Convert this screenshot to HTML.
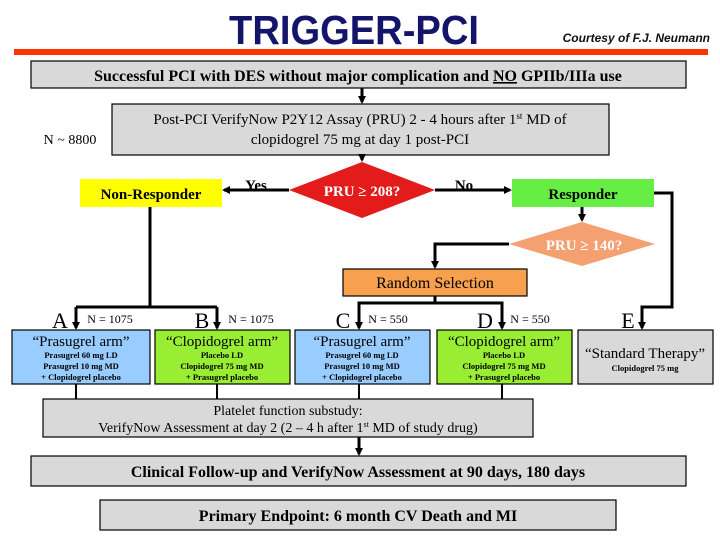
<!DOCTYPE html>
<html><head><meta charset="utf-8"><style>
body{margin:0;background:#fff;width:720px;height:540px;overflow:hidden}
svg{display:block}
.s{font-family:"Liberation Serif",serif}
.b{font-weight:bold}
</style></head><body>
<svg width="720" height="540" viewBox="0 0 720 540" xmlns="http://www.w3.org/2000/svg">
<defs><marker id="a" markerWidth="8" markerHeight="8" refX="6" refY="4" orient="auto" markerUnits="userSpaceOnUse"><path d="M0,0 L8,4 L0,8 Z" fill="#000"/></marker></defs>
<text x="354" y="44" text-anchor="middle" font-family="Liberation Sans,sans-serif" font-weight="bold" font-size="41" fill="#14146b" transform="translate(354 0) scale(0.93 1) translate(-354 0)">TRIGGER-PCI</text>
<text x="710" y="42" text-anchor="end" font-family="Liberation Sans,sans-serif" font-style="italic" font-weight="bold" font-size="12" fill="#111">Courtesy of F.J. Neumann</text>
<rect x="14" y="49" width="694" height="6" fill="#ff3300"/>
<g stroke="#000" stroke-width="1.2">
<rect x="31" y="61" width="655" height="27" fill="#d9d9d9"/>
<rect x="112" y="104" width="497" height="51" fill="#d9d9d9"/>
<rect x="80" y="179" width="142" height="28" fill="#ffff00" stroke="none"/>
<rect x="512" y="179" width="142" height="28" fill="#66ee44" stroke="none"/>
<rect x="343" y="269" width="184" height="27" fill="#f7a04e"/>
<rect x="12" y="330" width="138" height="54" fill="#99ccff"/>
<rect x="155" y="330" width="135" height="54" fill="#99ee33"/>
<rect x="295" y="330" width="135" height="54" fill="#99ccff"/>
<rect x="437" y="330" width="135" height="54" fill="#99ee33"/>
<rect x="578" y="330" width="135" height="54" fill="#d9d9d9"/>
<rect x="43" y="399" width="490" height="38" fill="#d9d9d9"/>
<rect x="31" y="456" width="655" height="30" fill="#d9d9d9"/>
<rect x="100" y="500" width="516" height="30" fill="#d9d9d9"/>
</g>
<polygon points="289,190 362,162 435,190 362,218" fill="#e31b1b"/>
<polygon points="509,244 582,222 655,244 582,266" fill="#f4a070"/>
<g stroke="#000" stroke-width="3" fill="none">
<line x1="362" y1="88" x2="362" y2="102" marker-end="url(#a)"/>
<line x1="362" y1="155" x2="362" y2="160" marker-end="url(#a)"/>
<line x1="289" y1="190" x2="224" y2="190" marker-end="url(#a)"/>
<line x1="435" y1="190" x2="510" y2="190" marker-end="url(#a)"/>
<line x1="582" y1="207" x2="582" y2="220" marker-end="url(#a)"/>
<polyline points="509,244 435,244 435,267" marker-end="url(#a)"/>
<polyline points="654,193 672,193 672,307 642,307 642,328" marker-end="url(#a)"/>
<line x1="150" y1="207" x2="150" y2="307"/>
<line x1="76" y1="307" x2="217" y2="307"/>
<line x1="76" y1="307" x2="76" y2="328" marker-end="url(#a)"/>
<line x1="217" y1="307" x2="217" y2="328" marker-end="url(#a)"/>
<line x1="435" y1="296" x2="435" y2="303"/>
<polyline points="359,328 359,303 502,303 502,328"/>
<line x1="359" y1="320" x2="359" y2="328" marker-end="url(#a)"/>
<line x1="502" y1="320" x2="502" y2="328" marker-end="url(#a)"/>
<line x1="359" y1="437" x2="359" y2="454" marker-end="url(#a)"/>
</g>
<g stroke="#000" stroke-width="2">
<line x1="76" y1="384" x2="76" y2="399"/><line x1="217" y1="384" x2="217" y2="399"/>
<line x1="359" y1="384" x2="359" y2="399"/><line x1="502" y1="384" x2="502" y2="399"/>
</g>
<g class="s" text-anchor="middle" fill="#000">
<text x="358" y="81" class="b" font-size="16">Successful PCI with DES without major complication and <tspan text-decoration="underline">NO</tspan> GPIIb/IIIa use</text>
<text x="360" y="124" font-size="15">Post-PCI VerifyNow P2Y12 Assay (PRU) 2 - 4 hours after 1<tspan font-size="9" dy="-5">st</tspan><tspan dy="5"> MD of</tspan></text>
<text x="360" y="144" font-size="15">clopidogrel 75 mg at day 1 post-PCI</text>
<text x="70" y="144" font-size="14">N ~ 8800</text>
<text x="151" y="199" class="b" font-size="15">Non-Responder</text>
<text x="583" y="199" class="b" font-size="15">Responder</text>
<text x="256" y="190" class="b" font-size="15">Yes</text>
<text x="464" y="190" class="b" font-size="15">No</text>
<text x="362" y="196" class="b" font-size="15" fill="#fff">PRU ≥ 208?</text>
<text x="584" y="250" class="b" font-size="15" fill="#fff">PRU ≥ 140?</text>
<text x="435" y="288" font-size="16">Random Selection</text>
<text x="60" y="328" font-size="22">A</text><text x="110" y="323" font-size="12">N = 1075</text>
<text x="202" y="328" font-size="22">B</text><text x="251" y="323" font-size="12">N = 1075</text>
<text x="343" y="328" font-size="22">C</text><text x="388" y="323" font-size="12">N = 550</text>
<text x="485" y="328" font-size="22">D</text><text x="530" y="323" font-size="12">N = 550</text>
<text x="628" y="328" font-size="22">E</text>
<g font-size="15"><text x="81" y="346">“Prasugrel arm”</text><text x="222" y="346">“Clopidogrel arm”</text><text x="362" y="346">“Prasugrel arm”</text><text x="504" y="346">“Clopidogrel arm”</text><text x="645" y="358">“Standard Therapy”</text></g>
<g font-size="8.5" class="b">
<text x="81" y="358">Prasugrel 60 mg LD</text><text x="81" y="369">Prasugrel 10 mg MD</text><text x="81" y="380">+ Clopidogrel placebo</text>
<text x="222" y="358">Placebo LD</text><text x="222" y="369">Clopidogrel 75 mg MD</text><text x="222" y="380">+ Prasugrel placebo</text>
<text x="362" y="358">Prasugrel 60 mg LD</text><text x="362" y="369">Prasugrel 10 mg MD</text><text x="362" y="380">+ Clopidogrel placebo</text>
<text x="504" y="358">Placebo LD</text><text x="504" y="369">Clopidogrel 75 mg MD</text><text x="504" y="380">+ Prasugrel placebo</text>
<text x="645" y="371">Clopidogrel 75 mg</text>
</g>
<text x="288" y="415" font-size="14">Platelet function substudy:</text>
<text x="288" y="432" font-size="14">VerifyNow Assessment at day 2 (2 – 4 h after 1<tspan font-size="8" dy="-5">st</tspan><tspan dy="5"> MD of study drug)</tspan></text>
<text x="358" y="477" class="b" font-size="16">Clinical Follow-up and VerifyNow Assessment at 90 days, 180 days</text>
<text x="358" y="521" class="b" font-size="16">Primary Endpoint: 6 month CV Death and MI</text>
</g>
</svg>
</body></html>
